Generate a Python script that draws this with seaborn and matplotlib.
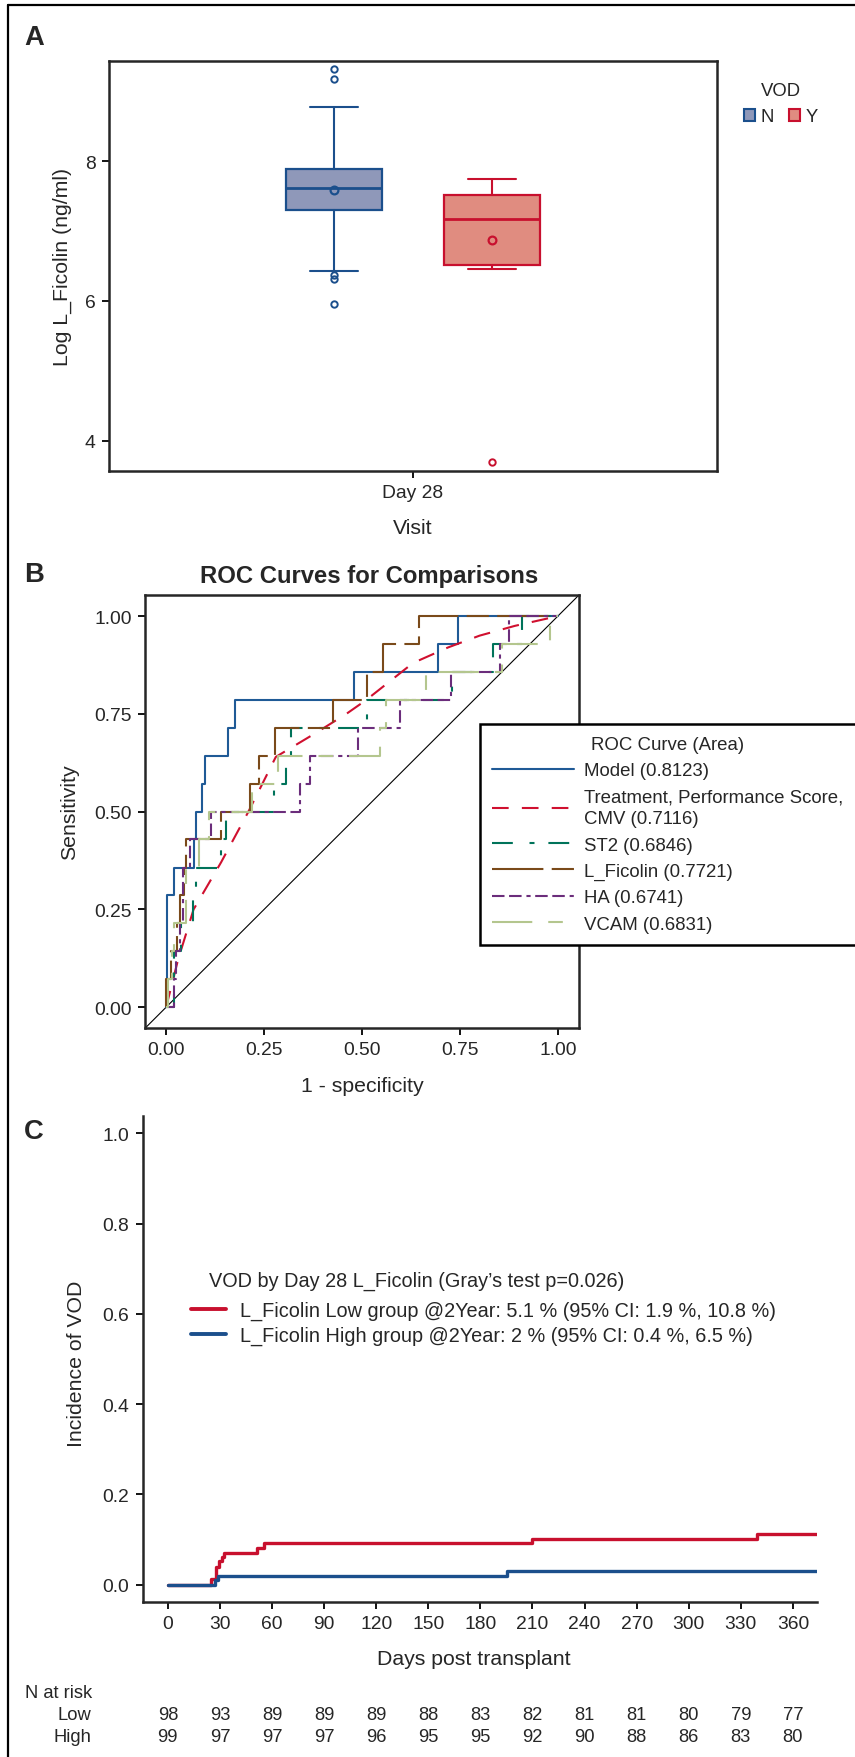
import numpy as np
import pandas as pd
import matplotlib
matplotlib.use('Agg')
import matplotlib.pyplot as plt
import matplotlib.transforms as mtransforms
from matplotlib.lines import Line2D
from matplotlib.patches import Patch
import seaborn as sns

# ---------------- data ----------------
# A: box plot of log L_Ficolin at Day 28 by VOD
vod_groups = ['N', 'Y']
box_q1 = [7.30, 6.52]
box_med = [7.62, 7.17]
box_q3 = [7.88, 7.52]
box_lo = [6.43, 6.45]
box_hi = [8.77, 7.75]
box_mean = [7.59, 6.87]
box_fliers = [[9.31, 9.17, 6.37, 6.31, 5.96], [3.70]]

# B: ROC curves (fpr where sensitivity jumps, sensitivity after the jump)
roc_labels = ['Model (0.8123)', 'Treatment, Performance Score,\nCMV (0.7116)',
              'ST2 (0.6846)', 'L_Ficolin (0.7721)', 'HA (0.6741)', 'VCAM (0.6831)']
model_fpr = [0, 0.003, 0.020, 0.071, 0.075, 0.092, 0.099, 0.158, 0.175, 0.479, 0.694, 0.745, 1.0]
model_tpr = [0, 0.286, 0.357, 0.429, 0.500, 0.571, 0.643, 0.714, 0.786, 0.857, 0.929, 1.0, 1.0]
treat_fpr = [0, 0.01, 0.03, 0.07, 0.14, 0.21, 0.28, 0.38, 0.46, 0.51, 0.63, 0.72, 0.80, 0.89, 1.0]
treat_tpr = [0, 0.04, 0.12, 0.25, 0.37, 0.50, 0.64, 0.70, 0.75, 0.785, 0.88, 0.92, 0.95, 0.975, 1.0]
st2_fpr = [0, 0.020, 0.037, 0.068, 0.075, 0.141, 0.154, 0.275, 0.306, 0.319, 0.513, 0.729, 0.834, 0.909, 1.0]
st2_tpr = [0, 0.143, 0.214, 0.286, 0.357, 0.429, 0.500, 0.571, 0.643, 0.714, 0.786, 0.857, 0.929, 1.0, 1.0]
lfic_fpr = [0, 0, 0.012, 0.028, 0.035, 0.045, 0.051, 0.140, 0.213, 0.236, 0.279, 0.426, 0.513, 0.554, 0.645, 1.0]
lfic_tpr = [0, 0.071, 0.143, 0.214, 0.286, 0.357, 0.429, 0.500, 0.571, 0.643, 0.714, 0.786, 0.857, 0.929, 1.0, 1.0]
ha_fpr = [0, 0.020, 0.025, 0.035, 0.042, 0.060, 0.114, 0.341, 0.366, 0.489, 0.596, 0.727, 0.852, 0.876, 1.0]
ha_tpr = [0, 0.071, 0.143, 0.214, 0.357, 0.429, 0.500, 0.571, 0.643, 0.714, 0.786, 0.857, 0.929, 1.0, 1.0]
vcam_fpr = [0, 0.005, 0.015, 0.020, 0.050, 0.083, 0.110, 0.219, 0.285, 0.545, 0.560, 0.664, 0.858, 0.981, 1.0]
vcam_tpr = [0, 0.071, 0.143, 0.214, 0.357, 0.429, 0.500, 0.571, 0.643, 0.714, 0.786, 0.857, 0.929, 1.0, 1.0]

# C: cumulative incidence of VOD
low_days = [0, 25, 27.6, 29.5, 31, 32.4, 51.6, 55.6, 210, 339.5, 374]
low_inc = [0, 0.0126, 0.040, 0.052, 0.062, 0.071, 0.082, 0.092, 0.102, 0.112, 0.112]
high_days = [0, 27, 28.8, 195.2, 374]
high_inc = [0, 0.010, 0.020, 0.0295, 0.0295]
cif_labels = ['L_Ficolin Low group @2Year: 5.1 % (95% CI: 1.9 %, 10.8 %)',
              'L_Ficolin High group @2Year: 2 % (95% CI: 0.4 %, 6.5 %)']
risk_days = [0, 30, 60, 90, 120, 150, 180, 210, 240, 270, 300, 330, 360]
risk_low = [98, 93, 89, 89, 89, 88, 83, 82, 81, 81, 80, 79, 77]
risk_high = [99, 97, 97, 97, 96, 95, 95, 92, 90, 88, 86, 83, 80]

# ---------------- style ----------------
sns.set_style('ticks')
plt.rcParams['font.family'] = ['Liberation Sans', 'DejaVu Sans']
plt.rcParams['lines.scale_dashes'] = False
plt.rcParams['axes.linewidth'] = 1.8

W, H = 855, 1758
TICK = 13.9
LAB = 15.3

def rect(l, t, r, b):
    return [l / W, 1 - b / H, (r - l) / W, (b - t) / H]

def ticks(ax):
    ax.tick_params(direction='out', length=5, width=1.3, labelsize=TICK, pad=4.5, color='black')

fig = plt.figure(figsize=(W / 100, H / 100), dpi=100)

# outer border (left and top)
fig.add_artist(Line2D([8 / W, 8 / W], [0, 1 - 6 / H], color='black', lw=1.6))
fig.add_artist(Line2D([8 / W, 1], [1 - 6 / H, 1 - 6 / H], color='black', lw=1.6))

# ================= Panel A =================
fills = ['#8F98B9', '#E08C80']
edges = ['#1B4F8C', '#C8102E']
offsets = [-0.13, 0.13]

axA = fig.add_axes(rect(109, 62, 717, 472))
for i, g in enumerate(vod_groups):
    st = dict(label=g, q1=box_q1[i], med=box_med[i], q3=box_q3[i], whislo=box_lo[i],
              whishi=box_hi[i], mean=box_mean[i], fliers=box_fliers[i])
    axA.bxp([st], positions=[offsets[i]], widths=0.159, capwidths=0.079, patch_artist=True,
            showmeans=True, manage_ticks=False,
            boxprops=dict(facecolor=fills[i], edgecolor=edges[i], linewidth=1.6),
            medianprops=dict(color=edges[i], linewidth=2.0),
            whiskerprops=dict(color=edges[i], linewidth=1.5),
            capprops=dict(color=edges[i], linewidth=1.5),
            meanprops=dict(marker='o', markerfacecolor='none', markeredgecolor=edges[i],
                           markersize=5.6, markeredgewidth=1.6),
            flierprops=dict(marker='o', markerfacecolor='none', markeredgecolor=edges[i],
                            markersize=4.6, markeredgewidth=1.4))
axA.set_xlim(-0.5, 0.5)
axA.set_ylim(3.57, 9.43)
axA.set_xticks([0])
axA.set_xticklabels(['Day 28'])
axA.set_yticks([4, 6, 8])
ticks(axA)
axA.set_xlabel('Visit', fontsize=LAB)
axA.set_ylabel('Log L_Ficolin (ng/ml)', fontsize=LAB)
axA.xaxis.set_label_coords(0.5, -0.138)
axA.xaxis.label.set_va('center')
axA.yaxis.set_label_coords(-0.077, 0.5)
axA.yaxis.label.set_va('center')

hA = [Patch(facecolor=fills[i], edgecolor=edges[i], linewidth=1.5) for i in range(2)]
legA = fig.legend(hA, vod_groups, title='VOD', ncol=2, loc='upper center',
                  bbox_to_anchor=(781 / W, 1 - 74 / H), frameon=False, fontsize=13.3,
                  title_fontsize=13.3, handlelength=0.6, handleheight=0.6,
                  handletextpad=0.3, columnspacing=0.8, borderpad=0, labelspacing=0.5)

# ================= Panel B =================
axB = fig.add_axes(rect(145, 596, 579, 1029.3))
roc_colors = ['#1F5A96', '#D0102F', '#00735A', '#7A4A1A', '#6B2D7B', '#B4C68E']
roc_styles = ['-', (0, (12, 9.5)), (0, (15, 12, 3.6, 10)), (0, (37, 6, 16, 6)),
              (0, (9, 3.3, 9, 3.5, 3, 3.3)), (0, (29, 11.5, 10.5, 11.5))]
roc_x = [model_fpr, treat_fpr, st2_fpr, lfic_fpr, ha_fpr, vcam_fpr]
roc_y = [model_tpr, treat_tpr, st2_tpr, lfic_tpr, ha_tpr, vcam_tpr]
roc_draw = ['steps-post', 'default', 'steps-post', 'steps-post', 'steps-post', 'steps-post']

axB.axline((0, 0), (1, 1), color='black', lw=0.8, zorder=1)
for i in range(len(roc_labels)):
    d = pd.DataFrame({'fpr': roc_x[i], 'tpr': roc_y[i]})
    sns.lineplot(data=d, x='fpr', y='tpr', ax=axB, sort=False, estimator=None,
                 color=roc_colors[i], linestyle=roc_styles[i], drawstyle=roc_draw[i],
                 linewidth=1.5, label=roc_labels[i], legend=False)
axB.set_xlim(-0.054, 1.054)
axB.set_ylim(-0.054, 1.054)
axB.set_xticks([0, 0.25, 0.5, 0.75, 1.0])
axB.set_yticks([0, 0.25, 0.5, 0.75, 1.0])
axB.xaxis.set_major_formatter(matplotlib.ticker.FormatStrFormatter('%.2f'))
axB.yaxis.set_major_formatter(matplotlib.ticker.FormatStrFormatter('%.2f'))
ticks(axB)
axB.set_xlabel('1 - specificity', fontsize=LAB)
axB.set_ylabel('Sensitivity', fontsize=LAB)
axB.xaxis.set_label_coords(0.5, -0.131)
axB.xaxis.label.set_va('center')
axB.yaxis.set_label_coords(-0.173, 0.5)
axB.yaxis.label.set_va('center')
fig.text(368.7 / W, 1 - 576 / H, 'ROC Curves for Comparisons', fontsize=17.2,
         fontweight='bold', ha='center', va='center')

hB, lB = axB.get_legend_handles_labels()
for t in lB:
    pass
legB = fig.legend(hB, lB, title='ROC Curve (Area)', loc='upper left',
                  bbox_to_anchor=(480 / W, 1 - 725 / H), frameon=True, fancybox=False,
                  edgecolor='black', framealpha=1, fontsize=13.4, title_fontsize=13.4,
                  handlelength=4.4, handletextpad=0.55, borderpad=0.65, labelspacing=0.5,
                  borderaxespad=0)
legB.get_frame().set_linewidth(1.8)
for t in legB.get_texts():
    t.set_linespacing(1.35)

# ================= Panel C =================
axC = fig.add_axes(rect(142.5, 1116.7, 816.7, 1603.3))
cif = pd.concat([
    pd.DataFrame({'days': low_days, 'inc': low_inc, 'group': cif_labels[0]}),
    pd.DataFrame({'days': high_days, 'inc': high_inc, 'group': cif_labels[1]}),
])
sns.lineplot(data=cif, x='days', y='inc', hue='group', ax=axC, sort=False, estimator=None,
             palette=['#C8102E', '#1B4F8C'], drawstyle='steps-post', linewidth=2.4,
             legend=False)
axC.set_xlim(-14.6, 373.7)
axC.set_ylim(-0.039, 1.039)
axC.set_xticks(risk_days)
axC.set_yticks([0, 0.2, 0.4, 0.6, 0.8, 1.0])
axC.yaxis.set_major_formatter(matplotlib.ticker.FormatStrFormatter('%.1f'))
sns.despine(ax=axC)
ticks(axC)
axC.set_xlabel('Days post transplant', fontsize=LAB)
axC.set_ylabel('Incidence of VOD', fontsize=LAB)
axC.xaxis.set_label_coords(0.4907, -0.1165)
axC.xaxis.label.set_va('center')
axC.yaxis.set_label_coords(-0.0976, 0.492)
axC.yaxis.label.set_va('center')

hC = [Line2D([], [], color=c, lw=2.8) for c in ['#C8102E', '#1B4F8C']]
legC = fig.legend(hC, cif_labels, loc='upper left', bbox_to_anchor=(190.7 / W, 1 - 1302 / H),
                  frameon=False, fontsize=14.3, handlelength=1.8, handletextpad=0.67,
                  labelspacing=0.3, borderpad=0, borderaxespad=0)
fig.text(208.8 / W, 1 - 1281.7 / H, 'VOD by Day 28 L_Ficolin (Gray\u2019s test p=0.026)',
         fontsize=14.3, ha='left', va='center')

# number at risk table
trans = mtransforms.blended_transform_factory(axC.transData, fig.transFigure)
for d, lo, hi in zip(risk_days, risk_low, risk_high):
    axC.text(d, 1 - 1716 / H, str(lo), transform=trans, ha='center', va='center',
             fontsize=13.2, clip_on=False)
    axC.text(d, 1 - 1738 / H, str(hi), transform=trans, ha='center', va='center',
             fontsize=13.2, clip_on=False)
fig.text(24.5 / W, 1 - 1693.5 / H, 'N at risk', fontsize=13.2, ha='left', va='center')
fig.text(91.6 / W, 1 - 1716 / H, 'Low', fontsize=13.2, ha='right', va='center')
fig.text(91.6 / W, 1 - 1738 / H, 'High', fontsize=13.2, ha='right', va='center')

# panel letters
for lab, y in [('A', 38.4), ('B', 575), ('C', 1132)]:
    fig.text(34 / W, 1 - y / H, lab, fontsize=19.7, fontweight='bold', ha='center', va='center')

fig.savefig('out.png', dpi=100)
